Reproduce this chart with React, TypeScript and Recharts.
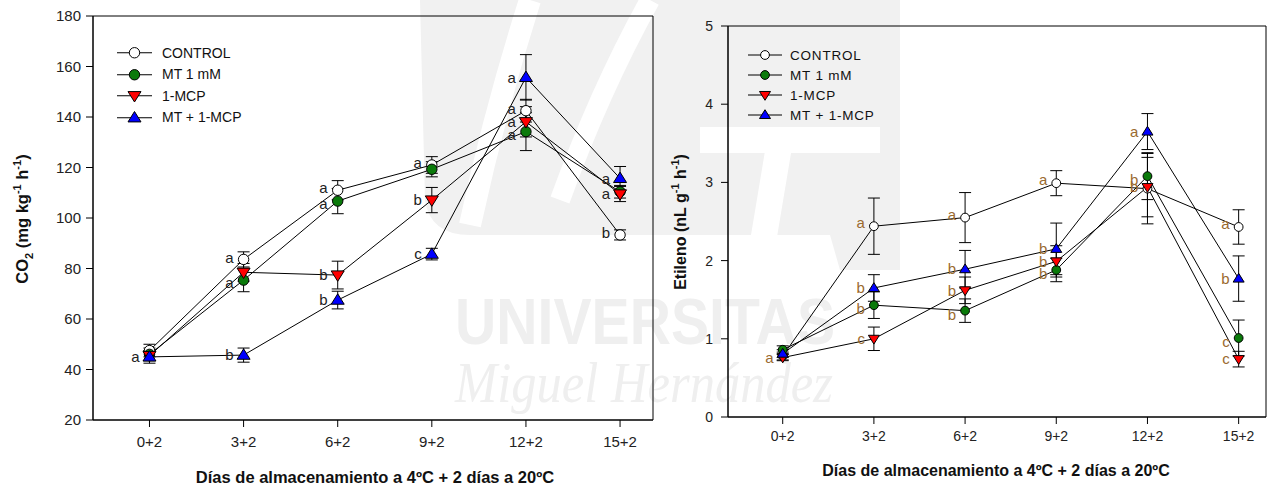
import React from 'react';
import { LineChart, Line, XAxis, YAxis, ErrorBar, LabelList, Legend, ReferenceArea } from 'recharts';

const categories = ['0+2', '3+2', '6+2', '9+2', '12+2', '15+2'];
const days = [0, 3, 6, 9, 12, 15];
const seriesNames = ['CONTROL', 'MT 1 mM', '1-MCP', 'MT + 1-MCP'];

// CO2 (mg kg-1 h-1)
const co2Control = [47.5, 83.6, 111.0, 121.0, 142.5, 93.3];
const co2ControlErr = [2.5, 3.0, 3.8, 3.3, 4.5, 2.0];
const co2Mt = [46.0, 75.4, 106.7, 119.3, 134.2, 110.4];
const co2MtErr = [2.5, 4.6, 5.0, 3.0, 7.5, 2.5];
const co2Mcp = [45.5, 78.5, 77.4, 107.1, 138.1, 109.5];
const co2McpErr = [2.0, 3.5, 5.5, 5.0, 6.0, 3.0];
const co2MtMcp = [45.0, 45.7, 67.5, 85.7, 155.7, 115.7];
const co2MtMcpErr = [2.5, 2.8, 3.5, 2.3, 9.0, 4.7];
const co2ControlLetters = ['', 'a', 'a', 'a', 'a', 'b'];
const co2MtLetters = ['', 'a', 'a', '', 'a', ''];
const co2McpLetters = ['', '', 'b', 'b', 'a', 'a'];
const co2MtMcpLetters = ['a', 'b', 'b', 'c', 'a', 'a'];
const co2Ticks = [20, 40, 60, 80, 100, 120, 140, 160, 180];

// Etileno (nL g-1 h-1)
const ethControl = [0.78, 2.44, 2.55, 2.99, 2.92, 2.43];
const ethControlErr = [0.05, 0.36, 0.32, 0.16, 0.45, 0.22];
const ethMt = [0.86, 1.43, 1.36, 1.88, 3.08, 1.01];
const ethMtErr = [0.05, 0.17, 0.15, 0.15, 0.3, 0.23];
const ethMcp = [0.76, 1.0, 1.62, 1.99, 2.94, 0.74];
const ethMcpErr = [0.04, 0.15, 0.17, 0.2, 0.38, 0.1];
const ethMtMcp = [0.81, 1.65, 1.89, 2.15, 3.65, 1.77];
const ethMtMcpErr = [0.05, 0.17, 0.24, 0.33, 0.23, 0.29];
const ethControlLetters = ['', 'a', 'a', 'a', '', 'a'];
const ethMtLetters = ['', 'b', 'b', 'b', 'b', 'c'];
const ethMcpLetters = ['a', 'c', 'b', 'b', 'b', 'c'];
const ethMtMcpLetters = ['', 'b', 'b', 'b', 'a', 'b'];
const ethTicks = [0, 1, 2, 3, 4, 5];

const FONT = '"Liberation Sans", Arial, Helvetica, sans-serif';

const co2Data = days.map((d, i) => ({
  day: d,
  c: co2Control[i], cE: co2ControlErr[i], cL: co2ControlLetters[i],
  m: co2Mt[i], mE: co2MtErr[i], mL: co2MtLetters[i],
  p: co2Mcp[i], pE: co2McpErr[i], pL: co2McpLetters[i],
  b: co2MtMcp[i], bE: co2MtMcpErr[i], bL: co2MtMcpLetters[i],
}));

const ethData = days.map((d, i) => ({
  day: d,
  c: ethControl[i], cE: ethControlErr[i], cL: ethControlLetters[i],
  m: ethMt[i], mE: ethMtErr[i], mL: ethMtLetters[i],
  p: ethMcp[i], pE: ethMcpErr[i], pL: ethMcpLetters[i],
  b: ethMtMcp[i], bE: ethMtMcpErr[i], bL: ethMtMcpLetters[i],
}));

type Shape = 'circle' | 'down' | 'up';
const seriesStyle: { key: string; shape: Shape; fill: string }[] = [
  { key: 'c', shape: 'circle', fill: '#ffffff' },
  { key: 'm', shape: 'circle', fill: '#0a7a0a' },
  { key: 'p', shape: 'down', fill: '#ff0000' },
  { key: 'b', shape: 'up', fill: '#0000ff' },
];

function markerEl(shape: Shape, fill: string, cx: number, cy: number, s: number, key?: any) {
  if (shape === 'circle') {
    return <circle key={key} cx={cx} cy={cy} r={s * 0.8} fill={fill} stroke="#000" strokeWidth={1} />;
  }
  const h = s * 1.6;
  const w = s * 1.0;
  if (shape === 'down') {
    const d = `M${cx - w},${cy - h * 0.4} L${cx + w},${cy - h * 0.4} L${cx},${cy + h * 0.6} Z`;
    return <path key={key} d={d} fill={fill} stroke="#000" strokeWidth={1} />;
  }
  const d = `M${cx - w},${cy + h * 0.4} L${cx + w},${cy + h * 0.4} L${cx},${cy - h * 0.6} Z`;
  return <path key={key} d={d} fill={fill} stroke="#000" strokeWidth={1} />;
}

const makeDot = (shape: Shape, fill: string, s: number) => (props: any) => {
  const { cx, cy, index } = props;
  if (cx == null || cy == null) return <g key={`e${index}`} />;
  return markerEl(shape, fill, cx, cy, s, `d${index}`);
};

const makeLetter = (color: string, fontSize: number, gap: number, shiftY: number) => (props: any) => {
  const { x, y, value, index } = props;
  if (!value) return <g key={`l${index}`} />;
  return (
    <text key={`l${index}`} x={x - gap} y={y + shiftY} dy="0.35em" textAnchor="end" fill={color}
      fontSize={fontSize} fontFamily={FONT}>
      {value}
    </text>
  );
};

const makeLegend = (s: number, rowH: number, fontSize: number, lineW: number, textGap: number, letterSpacing: number) => () => (
  <div style={{ fontFamily: FONT, fontSize, color: '#111', textAlign: 'left' }}>
    {seriesStyle.map((st, i) => (
      <div key={st.key} style={{ display: 'flex', alignItems: 'center', height: rowH }}>
        <svg width={lineW} height={rowH} style={{ display: 'block' }}>
          <line x1={0} x2={lineW} y1={rowH / 2} y2={rowH / 2} stroke="#000" strokeWidth={1} />
          {markerEl(st.shape, st.fill, lineW / 2, rowH / 2, s)}
        </svg>
        <span style={{ marginLeft: textGap, letterSpacing, whiteSpace: 'nowrap' }}>{seriesNames[i]}</span>
      </div>
    ))}
  </div>
);

const tickFmt = (v: number) => {
  const i = days.indexOf(v);
  return i >= 0 ? categories[i] : '';
};

function Panel(props: {
  data: any[]; width: number; height: number; margin: any; yWidth: number; xDomain: number[];
  yDomain: number[]; yTicks: number[]; tickFont: number; markerSize: number; letterColor: string;
  letterFont: number; letterGap: number; letterShift: number[]; legend: () => any; legendPos: any;
  xTickMargin: number; yTickMargin: number;
}) {
  const tickStyle = { fill: '#222', fontSize: props.tickFont, fontFamily: FONT };
  return (
    <LineChart width={props.width} height={props.height} data={props.data} margin={props.margin}>
      <XAxis dataKey="day" type="number" domain={props.xDomain} ticks={days} tickFormatter={tickFmt}
        allowDataOverflow stroke="#000" tick={tickStyle} tickSize={7} tickMargin={props.xTickMargin} height={30} />
      <YAxis type="number" domain={props.yDomain} ticks={props.yTicks} allowDataOverflow stroke="#000"
        tick={tickStyle} tickSize={7} tickMargin={props.yTickMargin} width={props.yWidth} />
      <ReferenceArea x1={props.xDomain[0]} x2={props.xDomain[1]} y1={props.yDomain[0]} y2={props.yDomain[1]}
        fill="none" fillOpacity={0} stroke="#000" strokeWidth={1} ifOverflow="visible" />
      <Legend content={props.legend} layout="vertical" align="center" verticalAlign="middle"
        wrapperStyle={props.legendPos} />
      {seriesStyle.map((st, i) => (
        <Line key={st.key} dataKey={st.key} name={seriesNames[i]} stroke="#000" strokeWidth={1}
          isAnimationActive={false} dot={makeDot(st.shape, st.fill, props.markerSize)} activeDot={false}>
          <ErrorBar dataKey={`${st.key}E`} width={6} stroke="#000" strokeWidth={1} direction="y" />
          <LabelList dataKey={`${st.key}L`}
            content={makeLetter(props.letterColor, props.letterFont, props.letterGap, props.letterShift[i])} />
        </Line>
      ))}
    </LineChart>
  );
}

export default function App() {
  return (
    <div style={{ position: 'absolute', left: 0, top: 0, width: 1269, height: 488, background: '#fff', overflow: 'hidden' }}>
      {/* watermark */}
      <svg width={1269} height={488} style={{ position: 'absolute', left: 0, top: 0 }}>
        <path d="M420,0 L900,0 L900,270 L840,270 L830,235 L470,235 Q430,235 425,200 Z" fill="#f1f1f1" />
        <path d="M470,225 Q495,110 530,0" stroke="#fff" strokeWidth={22} fill="none" />
        <path d="M560,200 Q600,90 650,0" stroke="#fff" strokeWidth={20} fill="none" />
        <path d="M700,140 L880,140 M780,140 L760,260" stroke="#fff" strokeWidth={26} fill="none" />
        <text x={455} y={344} fontSize={64} fontWeight="bold" fill="#efefef" fontFamily={FONT}
          textLength={380} lengthAdjust="spacingAndGlyphs">UNIVERSITAS</text>
        <text x={455} y={402} fontSize={56} fontStyle="italic" fill="#efefef" fontFamily='"Liberation Serif", serif'
          textLength={378} lengthAdjust="spacingAndGlyphs">Miguel Hernández</text>
      </svg>
      <div style={{ position: 'absolute', left: 0, top: 0 }}>
        <Panel data={co2Data} width={660} height={488} margin={{ top: 16, right: 7, bottom: 38, left: 0 }}
          yWidth={93} xDomain={[-1.8, 16.05]} yDomain={[20, 180]} yTicks={co2Ticks} tickFont={15}
          markerSize={6.5} letterColor="#222" letterFont={15} letterGap={10} letterShift={[-2, 3, 0, 0]}
          legend={makeLegend(6.5, 21.5, 14, 35, 10, 0)}
          legendPos={{ position: 'absolute', left: 117, top: 42, width: 220 }}
          xTickMargin={9} yTickMargin={5} />
      </div>
      <div style={{ position: 'absolute', left: 640, top: 0 }}>
        <Panel data={ethData} width={629} height={488} margin={{ top: 26, right: 3, bottom: 41, left: 0 }}
          yWidth={88} xDomain={[-1.8, 15.9]} yDomain={[0, 5]} yTicks={ethTicks} tickFont={14}
          markerSize={5.5} letterColor="#9a6a2f" letterFont={15} letterGap={9} letterShift={[-3, 4, 0, 0]}
          legend={makeLegend(5.5, 20, 13.5, 34, 8, 0.8)}
          legendPos={{ position: 'absolute', left: 108, top: 45, width: 220 }}
          xTickMargin={7} yTickMargin={8} />
      </div>
      {/* axis titles */}
      <svg width={1269} height={488} style={{ position: 'absolute', left: 0, top: 0, pointerEvents: 'none' }}
        fontFamily={FONT} fontWeight="bold" fill="#111">
        <text x={375} y={483} textAnchor="middle" fontSize={16.5}>Días de almacenamiento a 4ºC + 2 días a 20ºC</text>
        <text x={996} y={476} textAnchor="middle" fontSize={16}>Días de almacenamiento a 4ºC + 2 días a 20ºC</text>
        <text transform="rotate(-90 28 219)" x={28} y={219} textAnchor="middle" fontSize={16.5}>
          <tspan>CO</tspan><tspan dy={5} fontSize={11}>2</tspan><tspan dy={-5}> (mg kg</tspan>
          <tspan dy={-7} fontSize={11}>-1</tspan><tspan dy={7}> h</tspan><tspan dy={-7} fontSize={11}>-1</tspan>
          <tspan dy={7}>)</tspan>
        </text>
        <text transform="rotate(-90 686 222)" x={686} y={222} textAnchor="middle" fontSize={16}>
          <tspan>Etileno (nL g</tspan><tspan dy={-7} fontSize={11}>-1</tspan><tspan dy={7}> h</tspan>
          <tspan dy={-7} fontSize={11}>-1</tspan><tspan dy={7}>)</tspan>
        </text>
      </svg>
    </div>
  );
}
